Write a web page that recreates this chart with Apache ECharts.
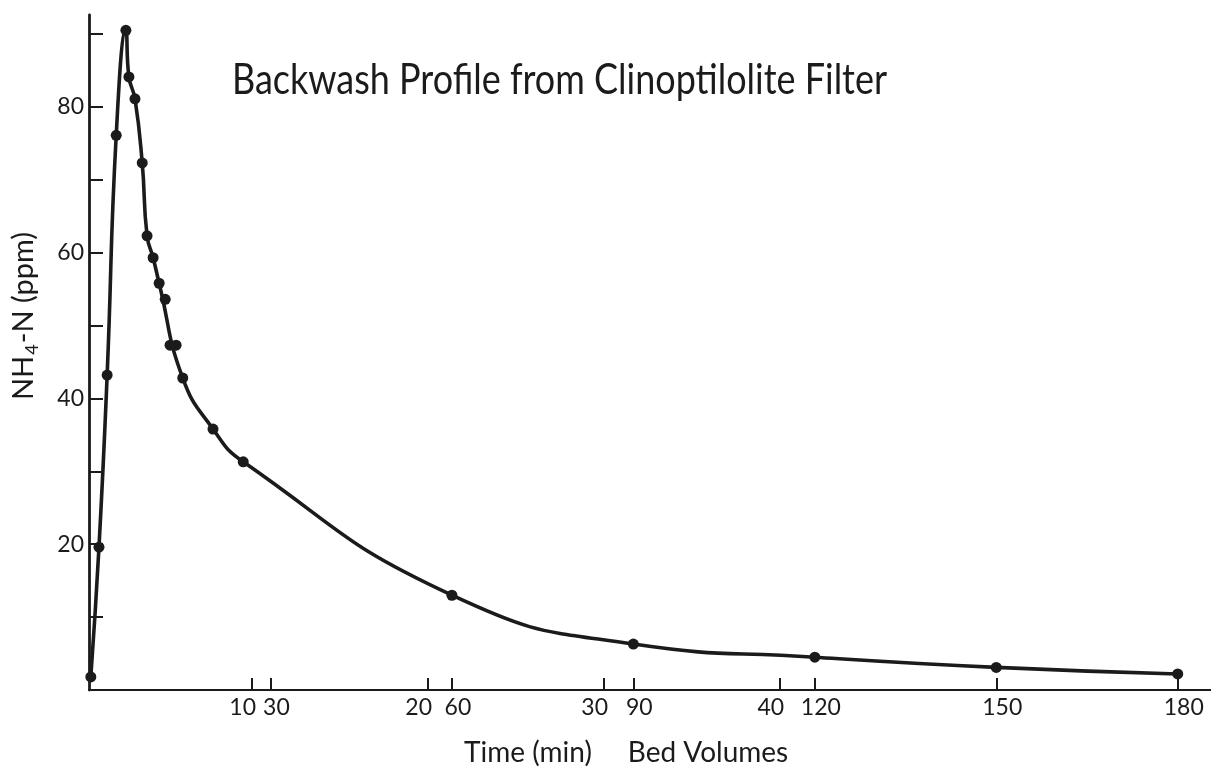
<!DOCTYPE html>
<html>
<head>
<meta charset="utf-8">
<title>Backwash Profile from Clinoptilolite Filter</title>
<script src="https://cdn.jsdelivr.net/npm/echarts@6/dist/echarts.min.js"></script>
<style>
  html, body { margin: 0; padding: 0; background: #ffffff; }
  #chart { width: 1211px; height: 770px; }
</style>
</head>
<body>
<div id="chart"></div>
<script>
// Backwash samples: bed volumes passed vs. NH4-N concentration (ppm)
const bedVolumes = [0.3, 1.65, 3.0, 4.5, 6.1, 6.6, 7.6, 8.8, 9.6, 10.6, 11.6, 12.6, 13.4, 14.4, 15.5, 20.5, 25.5, 60, 90, 120, 150, 180];
const nh4n       = [1.8, 19.6, 43.2, 76.1, 90.5, 84.1, 81.1, 72.3, 62.3, 59.3, 55.8, 53.6, 47.3, 47.3, 42.8, 35.8, 31.3, 13.0, 6.3, 4.5, 3.1, 2.2];

// samples the hand-fitted profile curve runs through (the rest scatter beside it)
const curveSamples = [0, 1, 2, 3, 4, 5, 6, 7, 8, 9, 10, 14, 15, 16, 17, 18, 19, 20, 21];

// Axis ticks
const bedVolumeTicks = [30, 60, 90, 120, 150, 180];
const timeTicks = [10, 20, 30, 40];
const concentrationTicks = [10, 20, 30, 40, 50, 60, 70, 80, 90];
const concentrationLabels = [20, 40, 60, 80];

// Axis extents (bed volumes and the matching elapsed-time scale)
const bedVolumeMax = 185.5;
const timeMin = 0.76;
const timeMax = 64.5;
const concentrationMax = 92.6;

const titleText = 'Backwash Profile from Clinoptilolite Filter';
const ink = '#1b1b1b';
const font = 'Lato, "DejaVu Sans", sans-serif';

// squeeze the title lettering to its narrow hand-lettered width
function fitScale(text, cssFont, width) {
  const ctx = document.createElement('canvas').getContext('2d');
  ctx.font = cssFont;
  return width / ctx.measureText(text).width;
}
const titleSize = 42;
const titleScale = fitScale(titleText, titleSize + 'px Lato', 655);

const points = bedVolumes.map((bv, i) => [bv, nh4n[i]]);
const curvePoints = curveSamples.map(i => [bedVolumes[i], nh4n[i]]);

const chart = echarts.init(document.getElementById('chart'), null, { renderer: 'canvas' });

const tickLabelStyle = { color: ink, fontFamily: font, fontSize: 23 };

chart.setOption({
  backgroundColor: '#ffffff',
  animation: false,
  grid: { left: 89, right: 0, top: 15, bottom: 80, outerBoundsMode: 'none' },
  xAxis: [
    {
      type: 'value',
      min: 0,
      max: bedVolumeMax,
      position: 'bottom',
      axisLine: { show: true, onZero: false, lineStyle: { color: ink, width: 2.2 } },
      axisTick: { show: true, inside: true, length: 12, customValues: bedVolumeTicks, lineStyle: { color: ink, width: 2 } },
      axisLabel: { show: true, margin: 6, padding: [0, 0, 0, 12], customValues: bedVolumeTicks, ...tickLabelStyle },
      splitLine: { show: false }
    },
    {
      type: 'value',
      min: timeMin,
      max: timeMax,
      position: 'bottom',
      axisLine: { show: false },
      axisTick: { show: true, inside: true, length: 12, customValues: timeTicks, lineStyle: { color: ink, width: 2 } },
      axisLabel: { show: true, margin: 6, padding: [0, 18, 0, 0], customValues: timeTicks, ...tickLabelStyle },
      splitLine: { show: false }
    }
  ],
  yAxis: {
    type: 'value',
    min: 0,
    max: concentrationMax,
    axisLine: { show: true, onZero: false, lineStyle: { color: ink, width: 2.8 } },
    axisTick: { show: true, inside: true, length: 14, customValues: concentrationTicks, lineStyle: { color: ink, width: 2 } },
    axisLabel: { show: true, margin: 5, customValues: concentrationLabels, ...tickLabelStyle },
    splitLine: { show: false }
  },
  series: [
    {
      // smooth profile curve
      type: 'line',
      xAxisIndex: 0,
      yAxisIndex: 0,
      data: curvePoints,
      smooth: 0.5,
      showSymbol: false,
      lineStyle: { color: ink, width: 3.6 },
      z: 2
    },
    {
      // measured samples
      type: 'scatter',
      xAxisIndex: 0,
      yAxisIndex: 0,
      data: points,
      symbol: 'circle',
      symbolSize: 11,
      itemStyle: { color: ink, opacity: 1 },
      z: 3
    }
  ],
  graphic: [
    {
      type: 'text',
      x: 232,
      y: 80,
      scaleX: titleScale,
      style: {
        text: titleText,
        fill: ink,
        font: titleSize + 'px Lato',
        align: 'left',
        verticalAlign: 'middle'
      }
    },
    {
      type: 'text',
      x: 528,
      y: 753,
      style: {
        text: 'Time (min)',
        fill: ink,
        font: '28px Lato',
        align: 'center',
        verticalAlign: 'middle'
      }
    },
    {
      type: 'text',
      x: 708,
      y: 753,
      style: {
        text: 'Bed Volumes',
        fill: ink,
        font: '28px Lato',
        align: 'center',
        verticalAlign: 'middle'
      }
    },
    {
      type: 'text',
      x: 24,
      y: 316,
      rotation: Math.PI / 2,
      style: {
        text: '{n|NH}{s|4}{n|-N (ppm)}',
        fill: ink,
        align: 'center',
        verticalAlign: 'middle',
        rich: {
          n: { fontFamily: font, fontSize: 29, color: ink, lineHeight: 34, verticalAlign: 'middle' },
          s: { fontFamily: font, fontSize: 18, color: ink, lineHeight: 34, verticalAlign: 'bottom', padding: [10, 1, 0, 1] }
        }
      }
    }
  ]
});
</script>
</body>
</html>
